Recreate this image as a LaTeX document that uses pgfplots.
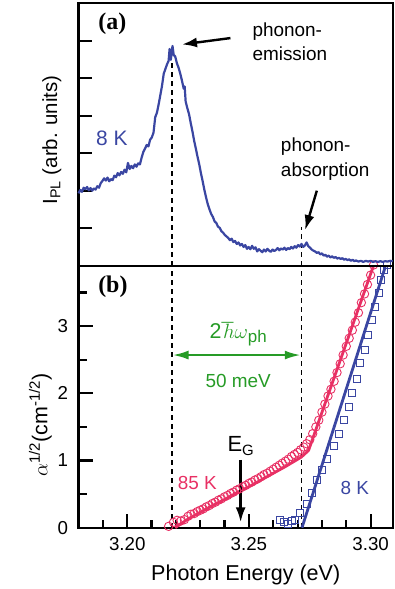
\documentclass[border=0pt]{standalone}
\usepackage{pgfplots}
\pgfplotsset{compat=1.18}
\usepackage{fontspec}
\setmainfont{Liberation Sans}
\newfontfamily\serifb{Liberation Serif}
\usetikzlibrary{arrows.meta}
\definecolor{plblue}{RGB}{58,70,162}
\definecolor{pkred}{RGB}{232,48,100}
\definecolor{grn}{RGB}{38,155,38}
\newcommand{\fs}[1]{\fontsize{#1}{#1}\selectfont}
\begin{document}
\fs{19}
\begin{tikzpicture}
\useasboundingbox (0,0) rectangle (389bp,589bp);
\pgfplotsset{
  every axis/.append style={
    scale only axis, anchor=south west, clip=false,
    xmin=3.18, xmax=3.3091, width=314.2bp,
    axis line style={line width=2.2bp},
    tick align=inside, tick pos=left,
    every tick/.style={black, line width=2.2bp},
    /pgf/number format/assume math mode=true,
    ticklabel style={font=\fs{18.8}},
  }
}
% ---------------- bottom panel (b)
\begin{axis}[at={(73.3bp,61.3bp)}, height=262bp,
  ymin=0, ymax=3.9,
  xtick={3.20,3.25,3.30}, xticklabels={3.20,3.25,3.30},
  minor xtick={3.19,3.21,3.22,3.23,3.24,3.26,3.27,3.28,3.29},
  ytick={0,1,2,3}, minor ytick={0.5,1.5,2.5,3.5},
  major tick length=14bp, minor tick length=8bp,
  xticklabel style={yshift=-3bp}, yticklabel style={xshift=-4bp},
]
\addplot[black, line width=1.1bp, dash pattern=on 5bp off 4bp] coordinates {(3.2184,0) (3.2184,3.9)};
\addplot[black, line width=1.1bp, dash pattern=on 5bp off 4bp] coordinates {(3.2715,0) (3.2715,3.9)};
% 85 K data
\addplot[only marks, mark=o, mark size=4.2bp, pkred, mark options={line width=0.9bp}] coordinates {
(3.2170,0.02) (3.2190,0.08) (3.2205,0.11) (3.2220,0.10) (3.2235,0.12) (3.2250,0.17)
(3.2262,0.20) (3.2275,0.21) (3.2288,0.24) (3.2300,0.26) (3.2312,0.28) (3.2325,0.31)
(3.2337,0.33) (3.2350,0.36) (3.2362,0.38) (3.2375,0.41) (3.2387,0.43) (3.2400,0.46)
(3.2412,0.48) (3.2425,0.51) (3.2437,0.53) (3.2450,0.56) (3.2462,0.58) (3.2475,0.61)
(3.2487,0.63) (3.2500,0.66) (3.2512,0.68) (3.2525,0.71) (3.2537,0.73) (3.2550,0.76)
(3.2562,0.79) (3.2575,0.81) (3.2587,0.84) (3.2600,0.87) (3.2612,0.90) (3.2625,0.93)
(3.2637,0.96) (3.2650,0.99) (3.2662,1.02) (3.2675,1.06) (3.2687,1.09) (3.2700,1.12)
(3.2712,1.16) (3.2725,1.20) (3.2737,1.25) (3.2750,1.31) (3.2762,1.40) (3.2775,1.50)
(3.2787,1.60) (3.2800,1.72) (3.2812,1.84) (3.2825,1.96) (3.2837,2.06) (3.2850,2.18)
(3.2862,2.31) (3.2875,2.44) (3.2887,2.57) (3.2900,2.70) (3.2912,2.82) (3.2925,2.94)
(3.2937,3.06) (3.2950,3.20) (3.2962,3.35) (3.2975,3.48) (3.2987,3.62) (3.3000,3.76)
(3.3012,3.91)};
\addplot[pkred, line width=2.8bp] coordinates {
(3.2197,0.0) (3.2250,0.13) (3.2300,0.23) (3.2350,0.33) (3.2400,0.42) (3.2450,0.52)
(3.2500,0.61) (3.2550,0.71) (3.2600,0.81) (3.2650,0.91) (3.2715,1.05) (3.2745,1.15) (3.3012,3.90)};
% 8 K data
\addplot[only marks, mark=square, mark size=3.5bp, plblue, mark options={line width=0.9bp}] coordinates {
(3.2629,0.12) (3.2645,0.08) (3.2660,0.06) (3.2675,0.10) (3.2690,0.12) (3.2711,0.22)
(3.2738,0.36) (3.2759,0.51) (3.2779,0.71) (3.2800,0.86) (3.2821,1.03) (3.2848,1.21)
(3.2868,1.40) (3.2889,1.60) (3.2909,1.80) (3.2923,2.00) (3.2944,2.22) (3.2957,2.45)
(3.2975,2.65) (3.2991,2.87) (3.3005,3.09) (3.3019,3.29) (3.3033,3.49) (3.3044,3.69)
(3.3053,3.83) (3.3067,3.91)};
\addplot[plblue, line width=2.8bp] coordinates {(3.2718,0) (3.3060,3.88)};
% annotations
\node[font=\serifb\bfseries\fs{24}] at (axis cs:3.1941,3.58) {(b)};
\node[grn, anchor=base, font=\fs{21.5}] at (axis cs:3.2456,2.82) {2$\hbar\omega$\raisebox{-4bp}{\fs{17}ph}};
\draw[grn, line width=2.4bp, {Latex[length=16bp,width=9bp]}-{Latex[length=16bp,width=9bp]}] (axis cs:3.2186,2.57) -- (axis cs:3.2713,2.57);
\node[grn] at (axis cs:3.2456,2.19) {50 meV};
\node[anchor=base, font=\fs{22}] at (axis cs:3.2466,1.13) {E\raisebox{-4bp}{\fs{15}G}};
\draw[black, line width=2.4bp, -{Latex[length=15bp,width=10bp]}] (axis cs:3.2466,1.01) -- (axis cs:3.2466,0.08);
\node[pkred] at (axis cs:3.2288,0.67) {85 K};
\node[plblue] at (axis cs:3.2935,0.59) {8 K};
\node[anchor=base, font=\fs{21.6}] at (rel axis cs:0.532,-0.2) {Photon Energy (eV)};
\node[rotate=90, anchor=base, font=\fs{21.5}] at (rel axis cs:-0.0995,0.392) {$\alpha$\textsuperscript{1/2}(cm\textsuperscript{-1/2})};
\end{axis}
% ---------------- top panel (a)
\begin{axis}[at={(73.3bp,323.3bp)}, height=262.5bp,
  ymin=0, ymax=7,
  xtick=\empty, ytick={0,1,2,3,4,5,6}, yticklabels={},
  major tick length=13bp,
]
\addplot[black, line width=1.1bp, dash pattern=on 5bp off 4bp] coordinates {(3.2184,0) (3.2184,5.45)};
\addplot[black, line width=1.1bp, dash pattern=on 5bp off 4bp] coordinates {(3.2715,0) (3.2715,1.04)};
\addplot[plblue, line width=2.2bp, line join=round] coordinates {
(3.1800,1.93) (3.1807,2.02) (3.1814,1.97) (3.1821,2.08) (3.1828,2.04) (3.1835,2.10)
(3.1842,2.01) (3.1849,2.07) (3.1856,2.00) (3.1863,2.06) (3.1870,2.03) (3.1877,2.12)
(3.1884,2.08) (3.1891,2.20) (3.1898,2.26) (3.1905,2.33) (3.1912,2.27) (3.1919,2.35)
(3.1926,2.25) (3.1933,2.31) (3.1940,2.28) (3.1947,2.40) (3.1954,2.36) (3.1961,2.47)
(3.1968,2.41) (3.1975,2.50) (3.1982,2.45) (3.1989,2.56) (3.1996,2.49) (3.2003,2.74)
(3.2010,2.58) (3.2017,2.66) (3.2024,2.60) (3.2031,2.70) (3.2038,2.64) (3.2045,2.73)
(3.2052,2.70) (3.2059,2.88) (3.2066,3.03) (3.2073,3.12) (3.2080,3.22) (3.2087,3.18)
(3.2094,3.36) (3.2101,3.42) (3.2108,3.55) (3.2115,3.96) (3.2122,4.08) (3.2129,4.30)
(3.2136,4.55) (3.2143,4.80) (3.2150,5.12) (3.2157,5.25) (3.2164,5.38) (3.2170,5.46)
(3.2174,5.78) (3.2179,5.49) (3.2186,5.86) (3.2191,5.62) (3.2197,5.58) (3.2204,5.40)
(3.2211,5.28) (3.2218,5.12) (3.2225,4.93) (3.2232,4.72) (3.2236,4.78) (3.2240,4.38)
(3.2247,4.20) (3.2254,4.04) (3.2261,3.80) (3.2268,3.58) (3.2275,3.33) (3.2282,3.12)
(3.2289,2.90) (3.2296,2.70) (3.2303,2.46) (3.2310,2.25) (3.2317,2.02) (3.2324,1.82)
(3.2331,1.64) (3.2338,1.50) (3.2345,1.38) (3.2352,1.30) (3.2359,1.18) (3.2366,1.14)
(3.2373,1.04) (3.2380,1.01) (3.2387,0.92) (3.2394,0.88) (3.2401,0.82) (3.2408,0.78)
(3.2415,0.74) (3.2422,0.68) (3.2429,0.72) (3.2436,0.63) (3.2443,0.66) (3.2450,0.58)
(3.2457,0.62) (3.2464,0.54) (3.2471,0.58) (3.2478,0.50) (3.2485,0.55) (3.2492,0.45)
(3.2499,0.50) (3.2506,0.44) (3.2513,0.53) (3.2520,0.45) (3.2527,0.49) (3.2534,0.38)
(3.2541,0.44) (3.2548,0.40) (3.2555,0.36) (3.2562,0.43) (3.2569,0.38) (3.2576,0.45)
(3.2583,0.40) (3.2590,0.37) (3.2597,0.43) (3.2604,0.39) (3.2611,0.42) (3.2618,0.47)
(3.2625,0.41) (3.2632,0.46) (3.2639,0.43) (3.2646,0.48) (3.2653,0.42) (3.2660,0.47)
(3.2667,0.44) (3.2674,0.50) (3.2681,0.46) (3.2688,0.52) (3.2695,0.48) (3.2702,0.55)
(3.2709,0.51) (3.2716,0.58) (3.2723,0.50) (3.2730,0.54) (3.2737,0.62) (3.2744,0.52)
(3.2751,0.48) (3.2758,0.43) (3.2765,0.40) (3.2772,0.38) (3.2779,0.34) (3.2786,0.36)
(3.2793,0.30) (3.2800,0.33) (3.2807,0.27) (3.2814,0.29) (3.2821,0.24) (3.2828,0.27)
(3.2835,0.22) (3.2842,0.25) (3.2849,0.21) (3.2856,0.23) (3.2863,0.19) (3.2870,0.21)
(3.2877,0.18) (3.2884,0.20) (3.2891,0.16) (3.2898,0.18) (3.2905,0.15) (3.2912,0.17)
(3.2919,0.13) (3.2926,0.16) (3.2933,0.12) (3.2940,0.14) (3.2950,0.11) (3.2960,0.13)
(3.2970,0.10) (3.2980,0.13) (3.2990,0.11) (3.3000,0.13) (3.3010,0.10) (3.3020,0.12)
(3.3030,0.10) (3.3040,0.12) (3.3050,0.10) (3.3060,0.12) (3.3070,0.11) (3.3080,0.13)
(3.3091,0.12)};
\node[font=\serifb\bfseries\fs{24}] at (axis cs:3.1939,6.45) {(a)};
\node[anchor=base west] at (axis cs:3.2488,6.11) {phonon-};
\node[anchor=base west] at (axis cs:3.2488,5.46) {emission};
\draw[black, line width=2.4bp, -{Latex[length=15bp,width=10bp]}] (axis cs:3.2424,6.07) -- (axis cs:3.2225,5.90);
\node[plblue, font=\fs{21}] at (axis cs:3.1937,3.40) {8 K};
\node[anchor=base west] at (axis cs:3.2605,3.04) {phonon-};
\node[anchor=base west] at (axis cs:3.2605,2.37) {absorption};
\draw[black, line width=2.4bp, -{Latex[length=15bp,width=10bp]}] (axis cs:3.2779,2.00) -- (axis cs:3.2731,0.95);
\node[rotate=90, anchor=base, font=\fs{20.5}] at (rel axis cs:-0.068,0.479) {I\textsubscript{PL} (arb. units)};
\end{axis}
\end{tikzpicture}
\end{document}
